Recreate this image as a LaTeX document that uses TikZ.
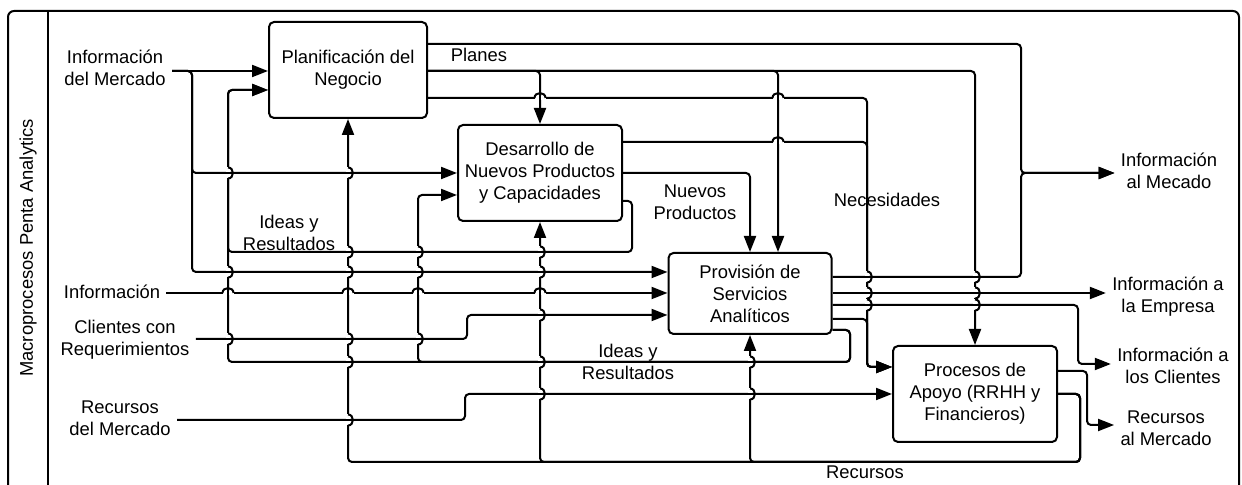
\documentclass[tikz,border=0pt]{standalone}
\usepackage{fontspec}
\setmainfont{Liberation Sans}
\usetikzlibrary{arrows.meta}

% vertical connector jumping over a horizontal one at (#1,#2)
\newcommand\hopv[2]{%
  \fill[white] (#1-1.8,#2-5.5) rectangle (#1+1.8,#2+5.5);
  \draw[conn] (#1-4,#2) -- (#1+4,#2);
  \draw[conn] (#1,#2-5.5) .. controls (#1+6.5,#2-5.5) and (#1+6.5,#2+5.5) .. (#1,#2+5.5);
}
% horizontal connector jumping over a vertical one at (#1,#2)
\newcommand\hoph[2]{%
  \fill[white] (#1-5.5,#2-1.8) rectangle (#1+5.5,#2+1.8);
  \draw[conn] (#1,#2-4) -- (#1,#2+4);
  \draw[conn] (#1-5.5,#2) .. controls (#1-5.5,#2-6.5) and (#1+5.5,#2-6.5) .. (#1+5.5,#2);
}

\begin{document}
\begin{tikzpicture}[x=0.5pt,y=-0.5pt,
  every node/.style={font=\fontsize{9.2}{11}\selectfont, align=center},
  proc/.style={draw, line width=1pt, rounded corners=2.5pt, inner sep=0pt},
  term/.style={inner sep=3pt},
  lbl/.style={inner sep=0pt},
  conn/.style={line width=1pt, rounded corners=2pt},
  arr/.style={conn, -{Triangle[length=8pt,width=6pt]}}]

\path[use as bounding box] (0,0) rectangle (1242,485);
\clip (0,0) rectangle (1242,485);

% swimlane frame
\draw[line width=1pt, rounded corners=3pt] (8,520) -- (8,11) -- (1239,11) -- (1239,520);
\draw[line width=1pt] (48,11) -- (48,520);
\node[rotate=90] (lane) at (28,248) {Macroprocesos Penta Analytics};

% processes
\node[proc, minimum width=79pt, minimum height=48pt] (P) at (348,70) {Planificación del\\Negocio};
\node[proc, minimum width=82pt, minimum height=48pt] (D) at (540,173) {Desarrollo de\\Nuevos Productos\\y Capacidades};
\node[proc, minimum width=81.5pt, minimum height=40.5pt] (S) at (750,293.5) {Provisión de\\Servicios\\Analíticos};
\node[proc, minimum width=82pt, minimum height=48pt] (A) at (975,394) {Procesos de\\Apoyo (RRHH y\\Financieros)};

% external inputs and outputs
\node[term] (tMerc) at (115,68) {Información\\del Mercado};
\node[term] (tInfo) at (112,292) {Información};
\node[term] (tCli) at (125,340) {Clientes con\\Requerimientos};
\node[term] (tRecM) at (120,418) {Recursos\\del Mercado};
\node[term] (tMec) at (1169,171) {Información\\al Mecado};
\node[term] (tEmp) at (1168,297) {Información a\\la Empresa};
\node[term] (tCliO) at (1173,366) {Información a\\los Clientes};
\node[term] (tRecO) at (1166,428) {Recursos\\al Mercado};

% flow labels
\node[lbl] (lPlanes) at (479,55) {Planes};
\node[lbl] (lNP) at (695,202) {Nuevos\\Productos};
\node[lbl] (lNec) at (887,200) {Necesidades};
\node[lbl] (lIR1) at (289,233) {Ideas y\\Resultados};
\node[lbl] (lIR2) at (628,362) {Ideas y\\Resultados};
\node[lbl] (lRec) at (865,472) {Recursos};

% market information
\draw[arr] (tMerc.east |- 0,71) -- (P.west |- 0,71);
\draw[arr] (tMerc.east |- 0,71) -- (192,71) -- (192,173) -- (D.west |- 0,173);
\draw[arr] (tMerc.east |- 0,71) -- (192,71) -- (192,272) -- (S.west |- 0,272);
\draw[arr] (tInfo.east |- 0,293) -- (S.west |- 0,293);
\draw[arr] (tCli.east |- 0,339) -- (467,339) -- (467,315) -- (S.west |- 0,315);
\draw[arr] (tRecM.east |- 0,420) -- (465,420) -- (465,394) -- (A.west |- 0,394);

% planning outputs
\draw[arr] (P.east |- 0,44) -- (1021,44) -- (1021,173) -- (tMec.west |- 0,173);
\draw[arr] (P.east |- 0,71) -- (540,71) -- (D.north);
\draw[arr] (P.east |- 0,71) -- (778,71) -- (S.north -| 778,0);
\draw[arr] (P.east |- 0,71) -- (975,71) -- (A.north);
\draw[arr] (P.east |- 0,98) -- (867,98) -- (867,367) -- (A.west |- 0,367);

% development outputs
\draw[arr] (D.east |- 0,142) -- (867,142) -- (867,367) -- (A.west |- 0,367);
\draw[arr] (D.east |- 0,173) -- (750,173) -- (S.north);
\draw[arr] (D.east |- 0,201) -- (632,201) -- (632,252) -- (228,252) -- (228,90) -- (P.west |- 0,90);

% service outputs
\draw[arr] (S.east |- 0,277) -- (1021,277) -- (1021,173) -- (tMec.west |- 0,173);
\draw[arr] (S.east |- 0,293) -- (tEmp.west |- 0,293);
\draw[arr] (S.east |- 0,305) -- (1078,305) -- (1078,364) -- (tCliO.west |- 0,364);
\draw[arr] (S.east |- 0,319) -- (867,319) -- (867,367) -- (A.west |- 0,367);
\draw[arr] (S.east |- 0,330) -- (850,330) -- (850,362) -- (418,362) -- (418,195) -- (D.west |- 0,195);
\draw[arr] (S.east |- 0,330) -- (850,330) -- (850,362) -- (228,362) -- (228,90) -- (P.west |- 0,90);

% support outputs
\draw[arr] (A.east |- 0,371) -- (1087,371) -- (1087,425) -- (tRecO.west |- 0,425);
\draw[arr] (A.east |- 0,394) -- (1080,394) -- (1080,462) -- (348,462) -- (P.south);
\draw[arr] (A.east |- 0,394) -- (1080,394) -- (1080,462) -- (540,462) -- (D.south);
\draw[arr] (A.east |- 0,394) -- (1080,394) -- (1080,462) -- (750,462) -- (S.south);

% line jumps
\hopv{228}{173} \hopv{348}{173}
\hopv{348}{252} \hopv{418}{252} \hopv{540}{252}
\hopv{228}{272} \hopv{348}{272} \hopv{418}{272} \hopv{540}{272}
\hopv{228}{339} \hopv{348}{339} \hopv{418}{339}
\hopv{540}{315}
\hopv{348}{362} \hopv{540}{362} \hopv{750}{362}
\hopv{540}{394} \hopv{750}{394}
\hopv{348}{420}
\hopv{867}{277} \hopv{975}{277}
\hopv{867}{293} \hopv{975}{293}
\hopv{867}{305} \hopv{975}{305}
\hoph{228}{293} \hoph{348}{293} \hoph{418}{293} \hoph{540}{293}
\hoph{540}{98} \hoph{778}{98} \hoph{778}{142}

\end{tikzpicture}
\end{document}
